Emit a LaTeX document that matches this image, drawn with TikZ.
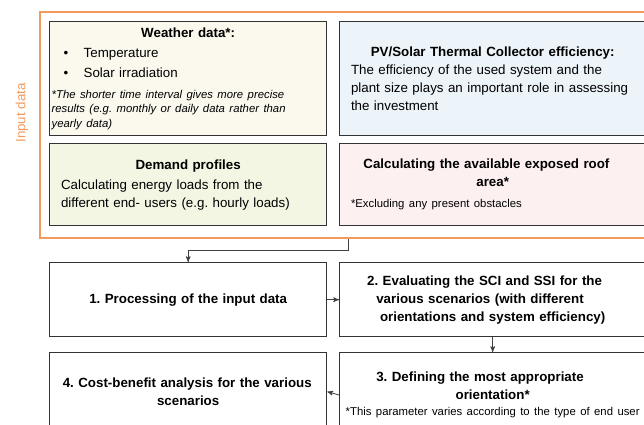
\documentclass[tikz,border=0pt]{standalone}
\usepackage{fontspec}
\setmainfont{Liberation Sans}
\frenchspacing
\usetikzlibrary{arrows,positioning}
\definecolor{inputorange}{HTML}{F29A5C}
\definecolor{weathercol}{HTML}{FBF8EE}
\definecolor{pvcol}{HTML}{ECF3F9}
\definecolor{demandcol}{HTML}{F3F6E3}
\definecolor{roofcol}{HTML}{FDF0F0}
\newcommand{\boxtitle}[1]{{\centering\bfseries #1\par}}
\newcommand{\smallnote}{\fontsize{8.5}{10.9}\selectfont}
\newcommand{\bulletitem}[1]{\hspace*{2pt}\makebox[15pt][l]{\textbullet}#1\par}
\tikzset{
	x=0.75pt, y=-0.75pt, % one unit is one pixel of the 644x425 picture
	>=stealth',
	every node/.style={font=\fontsize{10}{13.5}\selectfont},
	block/.style={draw=black!80, line width=1pt, anchor=north west, inner xsep=8.5pt, inner ysep=0pt, align=left},
	leftblock/.style={block, text width=190.75pt, minimum width=207.75pt},
	rightblock/.style={block, text width=212.5pt, minimum width=229.5pt},
	link/.style={->, draw=black!75, line width=0.6pt},
}
\begin{document}
\begin{tikzpicture}
	\useasboundingbox (0,0) rectangle (644,425);
	\clip (0,0) rectangle (644,425);

	% input data
	\node[draw=inputorange, line width=1.4pt, anchor=north west, minimum width=462pt, minimum height=169.5pt, inner sep=0pt] (inputframe) at (39,11) {};
	\node[rotate=90, text=inputorange, font=\fontsize{10}{12}\selectfont] (inputlabel) at (22,113) {Input data};

	\node[leftblock, fill=weathercol, minimum height=85.5pt] (weather) at (49,21) {\fontsize{10}{15}\selectfont
		\boxtitle{Weather data*:}
		\bulletitem{Temperature}
		\bulletitem{Solar irradiation}
		\vspace{4.8pt}
		{\smallnote\itshape\leftskip=-7pt *The shorter time interval gives more precise\newline results (e.g. monthly or daily data rather than\newline yearly data)\par}};
	\node[rightblock, fill=pvcol, minimum height=85.5pt] (pv) at (339,21) {
		\boxtitle{PV/Solar Thermal Collector efficiency:}
		The efficiency of the used system and the\newline plant size plays an important role in assessing\newline the investment};
	\node[leftblock, fill=demandcol, minimum height=61.5pt] (demand) at (49,143) {
		\boxtitle{Demand profiles}
		\vspace{1.5pt}
		Calculating energy loads from the\newline different end- users (e.g. hourly loads)};
	\node[rightblock, fill=roofcol, minimum height=61.5pt] (roof) at (339,143) {
		\boxtitle{Calculating the available exposed roof\newline area*}
		\vspace{5pt}
		{\smallnote *Excluding any present obstacles\par}};

	% steps
	\node[leftblock, fill=white, minimum height=55.5pt] (step1) at (49,262) {\boxtitle{1. Processing of the input data}};
	\node[rightblock, fill=white, minimum height=55.5pt] (step2) at (339,262) {\boxtitle{2. Evaluating the SCI and SSI for the\newline various scenarios (with different\newline orientations and system efficiency)}};
	\node[rightblock, fill=white, minimum height=63.5pt] (step3) at (339,352) {
		\boxtitle{3. Defining the most appropriate\newline orientation*}
		\vspace{1.1pt}
		{\smallnote\noindent\makebox[\linewidth][c]{*This parameter varies according to the type of end user}\par}};
	\node[leftblock, fill=white, minimum height=58.5pt] (step4) at (49,352) {\boxtitle{4. Cost-benefit analysis for the various\newline scenarios}};

	\draw[link] (inputframe.south) -- ++(0,12) -| (step1.north);
	\draw[link] (step1.east) -- (step2.west);
	\draw[link] (step2.south) -- (step3.north);
	\draw[link] (step3.west) -- (step4.east);
\end{tikzpicture}
\end{document}
